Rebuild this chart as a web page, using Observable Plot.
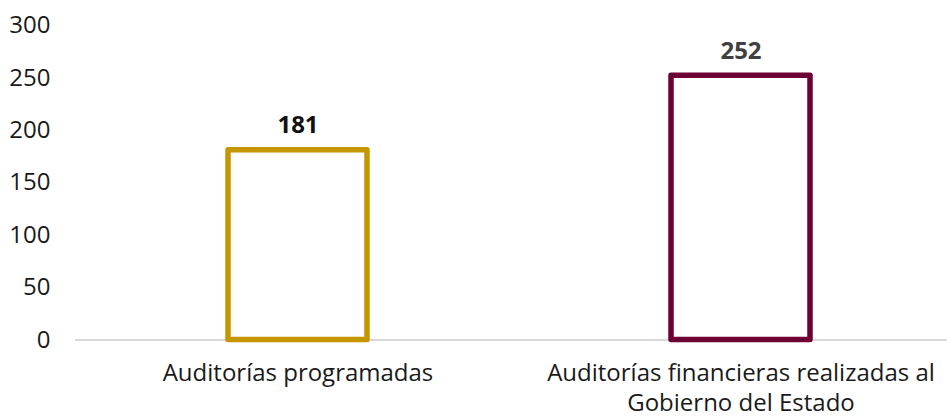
<!DOCTYPE html>
<html>
<head>
<meta charset="utf-8">
<script src="https://cdn.jsdelivr.net/npm/d3@7"></script>
<script src="https://cdn.jsdelivr.net/npm/@observablehq/plot@0.6"></script>
<style>
  html, body { margin: 0; padding: 0; background: #ffffff; }
</style>
</head>
<body>
<div id="chart"></div>
<script>
const categories = ["Auditorías programadas", "Auditorías financieras realizadas al Gobierno del Estado"];
const tickLabels = ["Auditorías programadas", "Auditorías financieras realizadas al\nGobierno del Estado"];
const values = [181, 252];
const barColors = ["#C59600", "#6D0034"];
const labelColors = ["#111111", "#404040"];
const yTicks = [0, 50, 100, 150, 200, 250, 300];

const data = categories.map((c, i) => ({category: c, value: values[i], color: barColors[i], labelColor: labelColors[i]}));

const chart = Plot.plot({
  width: 947,
  height: 417,
  marginLeft: 75,
  marginRight: 0,
  marginTop: 25,
  marginBottom: 77.5,
  style: {fontFamily: "'Open Sans', sans-serif", fontSize: "24px", color: "#1a1a1a", background: "#fff"},
  x: {domain: categories, range: [75.5, 961.5], padding: 0, label: null},
  y: {domain: [0, 300], range: [339.5, 25], label: null},
  marks: [
    Plot.axisY({ticks: yTicks, tickSize: 0, tickPadding: 25, fontSize: 24, label: null, fill: "#1a1a1a"}),
    Plot.axisX({tickSize: 0, tickPadding: 20, fontSize: 24, label: null, fill: "#1a1a1a",
      tickFormat: d => tickLabels[categories.indexOf(d)], lineHeight: 1.25}),
    Plot.ruleY([0], {stroke: "#d9d9d9", strokeWidth: 2}),
    Plot.barY(data, {x: "category", y: "value", fill: "#fff", stroke: "color", strokeWidth: 5.5,
      strokeLinejoin: "round", insetLeft: 152, insetRight: 152}),
    Plot.text(data, {x: "category", y: "value", text: d => String(d.value), dy: -25,
      fill: "labelColor", fontWeight: "bold", fontSize: 24})
  ]
});
document.getElementById("chart").appendChild(chart);
</script>
</body>
</html>
